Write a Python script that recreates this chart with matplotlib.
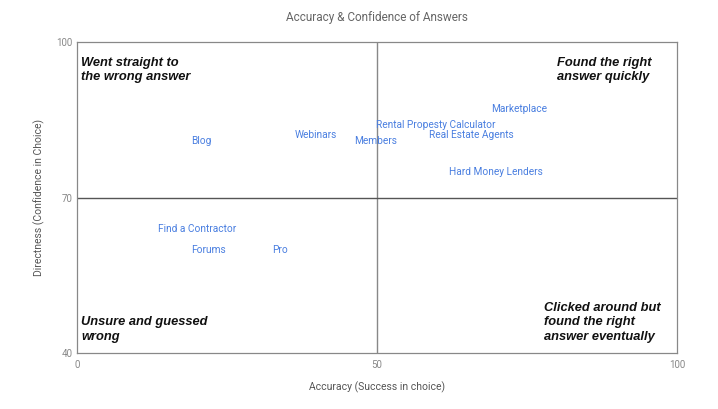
import matplotlib.pyplot as plt

# données
labels = ["Blog", "Webinars", "Members", "Rental Propesty Calculator",
          "Real Estate Agents", "Marketplace", "Hard Money Lenders",
          "Find a Contractor", "Forums", "Pro"]
accuracy = [20.8, 39.8, 49.8, 59.8, 65.8, 73.7, 69.8, 20.0, 22.0, 33.8]
directness = [80.9, 82.0, 80.9, 84.0, 82.0, 87.1, 74.9, 63.9, 59.8, 59.8]

x_ticks = [0, 50, 100]
y_ticks = [40, 70, 100]

# texte des quadrants (position en fraction des axes, alignement vertical)
quadrants = [
    ("Went straight to\nthe wrong answer", 0.007, 0.953, "top"),
    ("Found the right\nanswer quickly", 0.80, 0.953, "top"),
    ("Unsure and guessed\nwrong", 0.007, 0.032, "bottom"),
    ("Clicked around but\nfound the right\nanswer eventually", 0.778, 0.032, "bottom"),
]

plt.rcParams['font.family'] = ['Roboto', 'DejaVu Sans']

fig = plt.figure(figsize=(7.18, 4.09), dpi=100)
ax = fig.add_axes([0.1072, 0.137, 0.8357, 0.760])

ax.scatter(accuracy, directness, s=0, alpha=0)
for lab, x, y in zip(labels, accuracy, directness):
    ax.text(x, y, lab, color="#4a7fe0", fontsize=7.3, ha="center", va="center")

ax.axvline(50, color="#888888", lw=1)
ax.axhline(70, color="#555555", lw=1)

for txt, xf, yf, va in quadrants:
    ax.text(xf, yf, txt, transform=ax.transAxes, fontsize=9.3,
            fontweight="bold", fontstyle="italic", family="Liberation Sans",
            ha="left", va=va, linespacing=1.3, color="#111111")

ax.set_xlim(0, 100)
ax.set_ylim(40, 100)
ax.set_xticks(x_ticks)
ax.set_yticks(y_ticks)
ax.tick_params(length=0, labelsize=7, colors="#888888")
ax.tick_params(axis="x", pad=5)
ax.tick_params(axis="y", pad=3)
for s in ax.spines.values():
    s.set_color("#888888")
    s.set_linewidth(0.9)

ax.set_title("Accuracy & Confidence of Answers", fontsize=8.5, color="#666666", pad=15)
ax.set_xlabel("Accuracy (Success in choice)", fontsize=7.5, color="#555555", labelpad=8)
ax.set_ylabel("Directness (Confidence in Choice)", fontsize=7.5, color="#555555", labelpad=8)

fig.savefig("out.png", dpi=100)
